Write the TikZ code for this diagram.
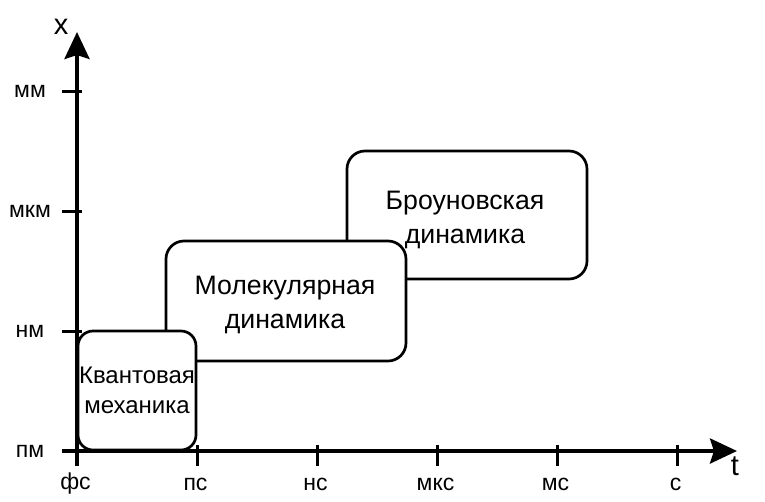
\documentclass[tikz,border=0pt]{standalone}
\usepackage{fontspec}
\setmainfont{Liberation Sans}
\usetikzlibrary{arrows.meta}
\begin{document}
\begin{tikzpicture}[x=1pt,y=-1pt,
  box/.style={draw=black,line width=2.7pt,fill=white,rounded corners=18pt,inner sep=0pt,align=center,font=\fontsize{26.7}{34}\selectfont},
  axis/.style={line width=4pt,-{Stealth[length=27pt,width=25pt,inset=4pt]}},
  tick/.style={line width=3pt},
  ticklabel/.style={font=\fontsize{23}{26}\selectfont,inner sep=0pt,anchor=center},
  axlabel/.style={font=\fontsize{29}{32}\selectfont,inner sep=0pt,anchor=center}]
\useasboundingbox (0,0) rectangle (765,501);
% boxes
\node[box,minimum width=240pt,minimum height=128pt] (brown) at (467,215) {};
\node[align=center,inner sep=0pt,font=\fontsize{26.7}{34}\selectfont] (browntext) at (465,220) {Броуновская\\динамика};
\node[box,minimum width=240pt,minimum height=120pt] (mol) at (286,301) {};
\node[align=center,inner sep=0pt,font=\fontsize{26.7}{34}\selectfont] (moltext) at (285,305) {Молекулярная\\динамика};
\node[box,rounded corners=15pt,minimum width=118pt,minimum height=119pt,font=\fontsize{24}{30}\selectfont] (qm) at (137,390.5) {Квантовая\\механика};
% axes
\coordinate (ybot) at (77,466);
\coordinate (ytop) at (77,32);
\coordinate (xbeg) at (62,451);
\coordinate (xend) at (737,451);
\draw[axis] (ybot) -- (ytop);
\draw[axis] (xbeg) -- (xend);
% y ticks
\foreach \yy/\lab/\nm in {91/мм/mm,211/мкм/mkm,331/нм/nm,451/пм/pm}{
  \coordinate (yt\nm a) at (62,\yy);
  \coordinate (yt\nm b) at (82,\yy);
  \draw[tick] (yt\nm a) -- (yt\nm b);
  \node[ticklabel] (yl\nm) at (30,\yy) {\lab};
}
% x ticks
\foreach \xx/\lab/\nm in {77/фс/fs,197/пс/ps,317/нс/ns,437/мкс/mks,557/мс/ms,677/с/s}{
  \coordinate (xt\nm a) at (\xx,445);
  \coordinate (xt\nm b) at (\xx,466);
  \draw[tick] (xt\nm a) -- (xt\nm b);
  \node[ticklabel] (xl\nm) at (\xx-1.5,484) {\lab};
}
\node[axlabel] (xlab) at (61,27) {x};
\node[axlabel] (tlab) at (735,466) {t};
\end{tikzpicture}
\end{document}
